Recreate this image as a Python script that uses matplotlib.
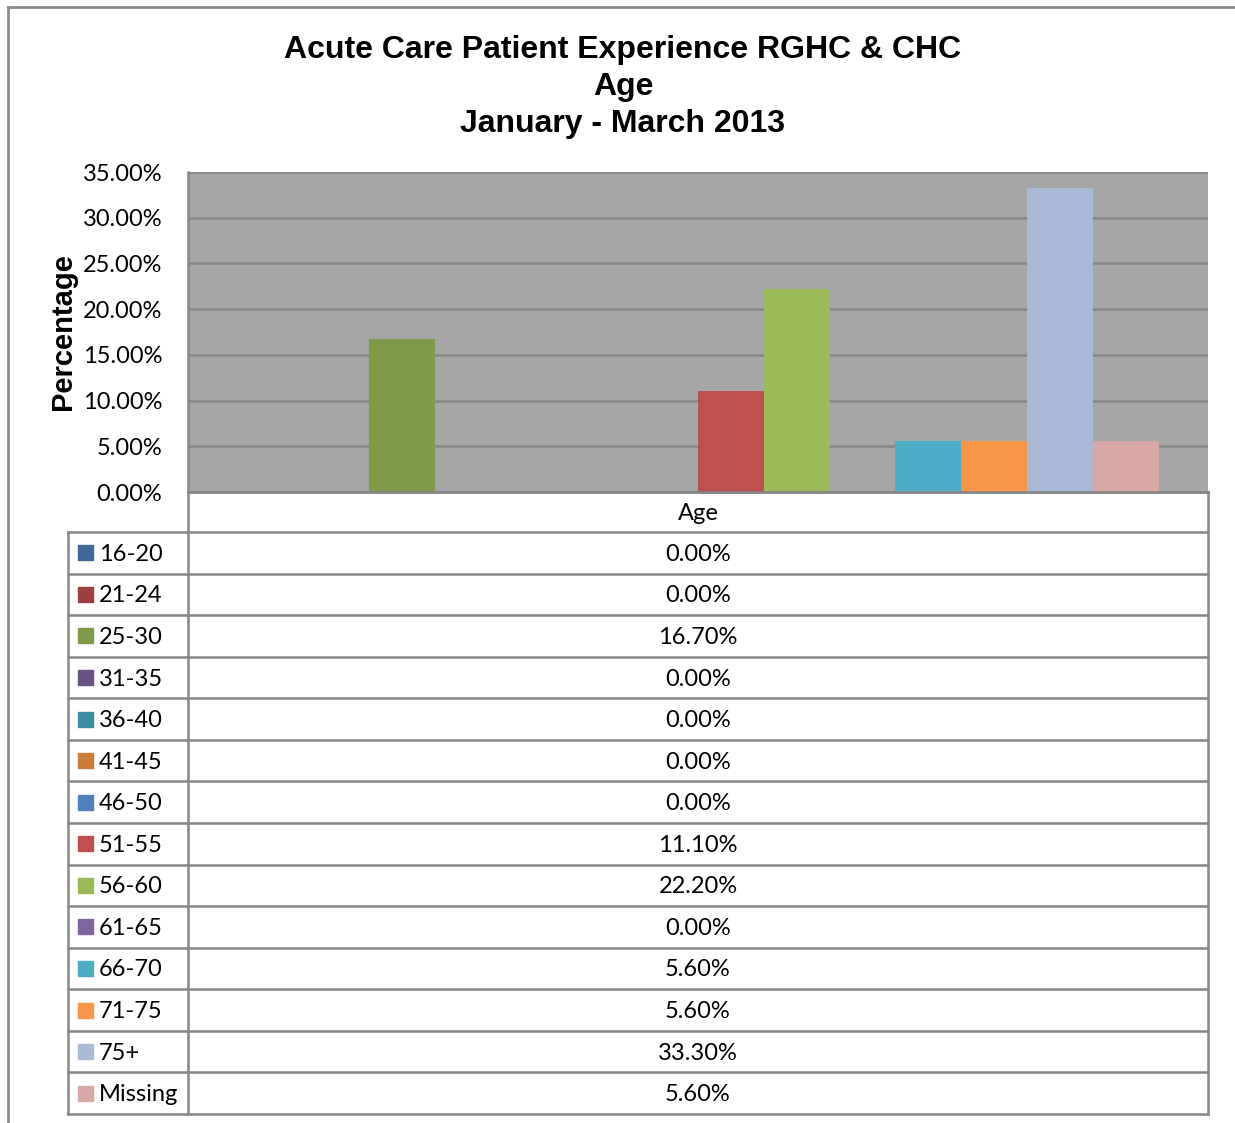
import matplotlib
matplotlib.use("Agg")
import matplotlib.pyplot as plt
from matplotlib.patches import Rectangle

# data
categories = ["Age"]
series = ["16-20", "21-24", "25-30", "31-35", "36-40", "41-45", "46-50",
          "51-55", "56-60", "61-65", "66-70", "71-75", "75+", "Missing"]
values = [0.00, 0.00, 16.70, 0.00, 0.00, 0.00, 0.00,
          11.10, 22.20, 0.00, 5.60, 5.60, 33.30, 5.60]
colors = ["#41689A", "#9B403D", "#7F9A48", "#695285", "#3C8DA3", "#CD7B38",
          "#4F81BD", "#C0504D", "#9BBB59", "#8064A2", "#4BACC6", "#F79646",
          "#AAB9D6", "#D8A8A7"]
yticks = [0, 5, 10, 15, 20, 25, 30, 35]
title_lines = ["Acute Care Patient Experience RGHC & CHC", "Age", "January - March 2013"]

W, H = 1235, 1123
fig = plt.figure(figsize=(W / 100, H / 100), dpi=100)

calibri = ["Lato", "DejaVu Sans"]
arial = ["Liberation Sans", "DejaVu Sans"]
grid_c = "#878787"
fs = 17

# plot area
ax = fig.add_axes([188 / W, 1 - 492 / H, 1020 / W, 320 / H])
ax.set_facecolor("#A6A6A6")
n = len(series)
group = 0.903
bw = group / n
for i, (v, c) in enumerate(zip(values, colors)):
    ax.bar(-group / 2 + (i + 0.5) * bw, v, width=bw, color=c, zorder=3)
ax.set_xlim(-0.5, 0.5)
ax.set_ylim(0, 35)
ax.set_yticks(yticks)
ax.set_yticklabels([f"{t:.2f}%" for t in yticks], fontfamily=calibri, fontsize=fs)
ax.set_xticks([])
ax.tick_params(axis="y", length=0, pad=18.5)
ax.yaxis.grid(True, color=grid_c, linewidth=1.8, zorder=1)
ax.set_axisbelow(True)
for s in ["top", "right"]:
    ax.spines[s].set_visible(False)
for s in ["left", "bottom"]:
    ax.spines[s].set_color(grid_c)
    ax.spines[s].set_linewidth(1.8)
ax.set_ylabel("Percentage", fontfamily=arial, fontsize=21, fontweight="bold", labelpad=4)

for k, line in enumerate(title_lines):
    fig.text(623 / W, 1 - (50 + 37 * k) / H, line, ha="center", va="center",
             fontfamily=arial, fontsize=23, fontweight="bold")

# overlay for the data table and frame
ov = fig.add_axes([0, 0, 1, 1], zorder=5)
ov.set_xlim(0, W)
ov.set_ylim(H, 0)
ov.axis("off")
ov.patch.set_alpha(0)

ov.plot([8, 8], [7, H], color="#8C8C8C", lw=2)
ov.plot([8, W], [7, 7], color="#8C8C8C", lw=2)

top, bot = 532, 1114
rh = (bot - top) / n
ov.plot([188, 1208], [492, 492], color=grid_c, lw=1.8)
for k in range(n + 1):
    y = top + k * rh
    ov.plot([68, 1208], [y, y], color=grid_c, lw=1.8)
ov.plot([68, 68], [top, bot], color=grid_c, lw=1.8)
ov.plot([188, 188], [492, bot], color=grid_c, lw=1.8)
ov.plot([1208, 1208], [492, bot], color=grid_c, lw=1.8)

ov.text(698, 513, categories[0], ha="center", va="center", fontfamily=calibri, fontsize=fs)
for i, (name, v, c) in enumerate(zip(series, values, colors)):
    yc = top + (i + 0.5) * rh + 1.5
    ov.add_patch(Rectangle((78, yc - 9), 15, 15, color=c))
    ov.text(99, yc, name, ha="left", va="center", fontfamily=calibri, fontsize=fs)
    ov.text(698, yc, f"{v:.2f}%", ha="center", va="center", fontfamily=calibri, fontsize=fs)

fig.savefig("out.png", dpi=100, facecolor="white")
